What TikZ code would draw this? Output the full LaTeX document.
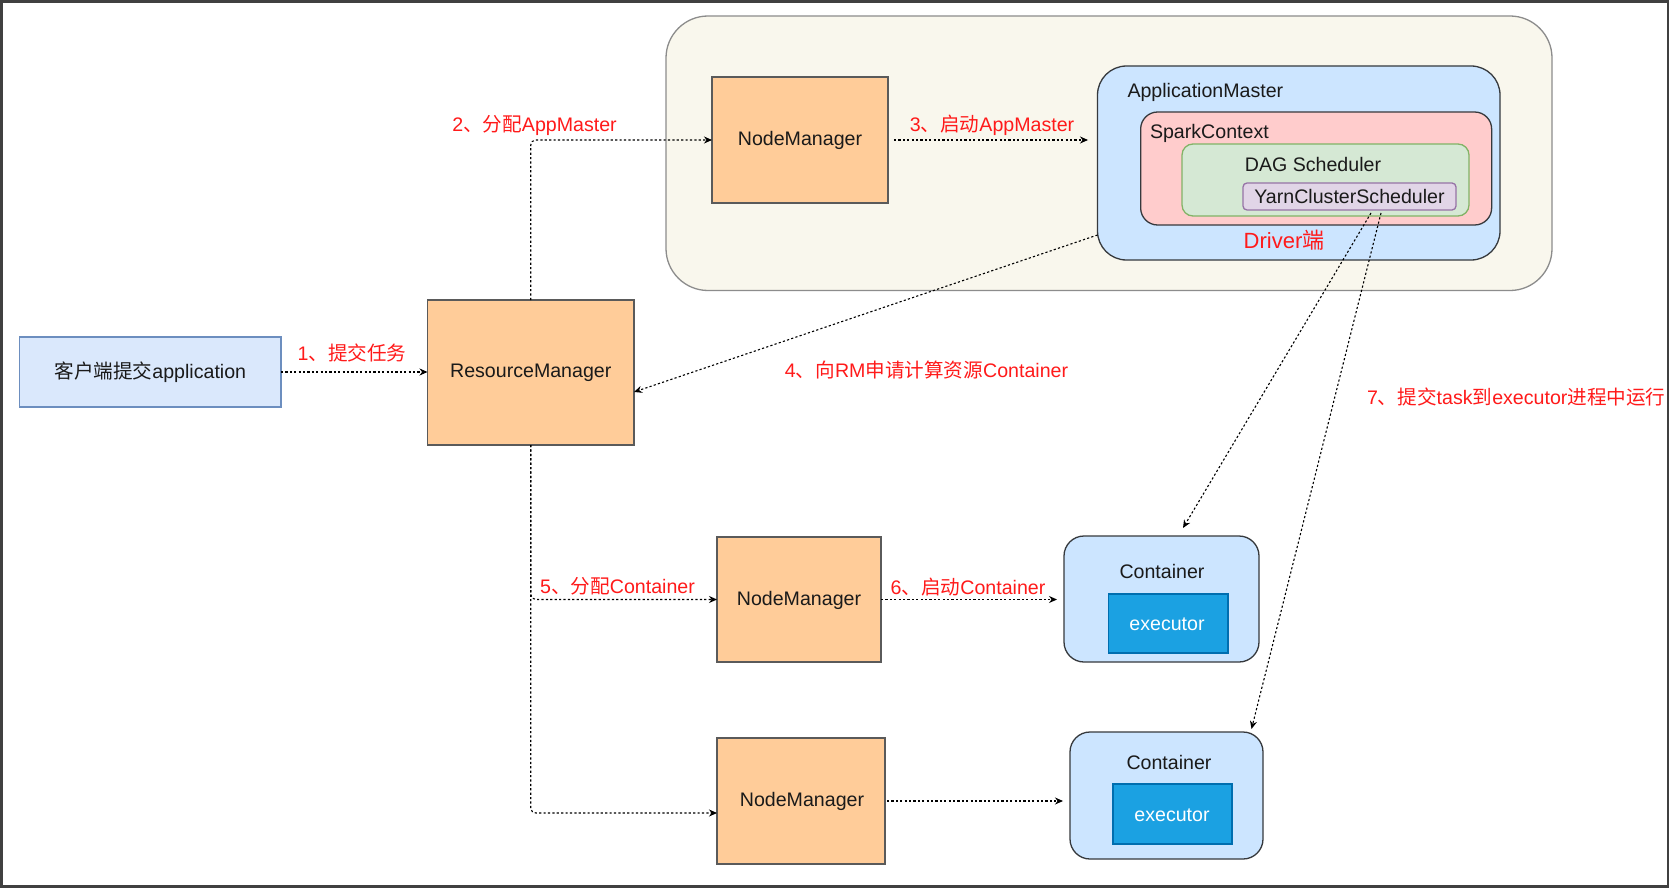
\documentclass[tikz,border=0pt]{standalone}
\usepackage{fontspec}
\setmainfont{Liberation Sans}
\newfontfamily\cjk{Noto Sans CJK SC}
\usetikzlibrary{arrows.meta,calc}
\definecolor{framec}{HTML}{404040}
\definecolor{beigeF}{HTML}{F9F7ED}
\definecolor{beigeD}{HTML}{8C8C8C}
\definecolor{nmF}{HTML}{FFCC99}
\definecolor{darkD}{HTML}{36393D}
\definecolor{nmD}{HTML}{5A5A5A}
\definecolor{amF}{HTML}{CCE5FF}
\definecolor{scF}{HTML}{FFCCCC}
\definecolor{dagF}{HTML}{D5E8D4}
\definecolor{dagD}{HTML}{82B366}
\definecolor{yarnF}{HTML}{E1D5E7}
\definecolor{yarnD}{HTML}{9673A6}
\definecolor{clF}{HTML}{DAE8FC}
\definecolor{clD}{HTML}{6C8EBF}
\definecolor{exF}{HTML}{1BA1E2}
\definecolor{exD}{HTML}{006EAF}
\definecolor{lblred}{HTML}{FF1A1A}
\definecolor{txt}{HTML}{1A1A1A}
\begin{document}
\begin{tikzpicture}[x=1pt,y=-1pt,
  every node/.style={inner sep=0pt, outer sep=0pt, font=\fontsize{19.6}{23}\selectfont, text=txt},
  boxbase/.style={draw, line width=1.3pt, shape=rectangle},
  nmbox/.style={boxbase, fill=nmF, draw=nmD},
  lbl/.style={text=lblred},
  arr/.style={draw=black, line width=1.1pt, dash pattern=on 2.2pt off 2.2pt, -{Stealth[length=8pt,width=7pt]}},
]
\useasboundingbox (0,0) rectangle (1670,888);
\fill[white] (0,0) rectangle (1670,888);
\draw[line width=2.6pt, framec] (1.3,1.3) rectangle (1668,886.7);

% cluster
\node[boxbase, fill=beigeF, draw=beigeD, rounded corners=42pt, minimum width=886pt, minimum height=274.5pt] (cluster) at (1109,153.25) {};
\node[nmbox, minimum width=176pt, minimum height=126pt] (NM1) at (800,140) {};
\node (tNM1) at (800,140) {NodeManager};
\node[boxbase, fill=amF, draw=darkD, rounded corners=29pt, minimum width=402.5pt, minimum height=194pt] (AM) at (1298.75,163) {};
\node[anchor=west] (tAM) at (1127.5,92) {ApplicationMaster};
\node[boxbase, fill=scF, draw=darkD, rounded corners=17pt, minimum width=351pt, minimum height=113pt] (SC) at (1316.15,168.5) {};
\node[anchor=west] (tSC) at (1150,133) {SparkContext};
\node[boxbase, fill=dagF, draw=dagD, rounded corners=11pt, minimum width=287pt, minimum height=72pt] (DAG) at (1325.5,180) {};
\node (tDAG) at (1313,164) {DAG Scheduler};
\node[boxbase, fill=yarnF, draw=yarnD, rounded corners=4pt, minimum width=213pt, minimum height=27pt] (Yarn) at (1349.5,196.5) {};
\node (tYarn) at (1349.5,196.5) {YarnClusterScheduler};
\node[lbl, font=\fontsize{22}{26}\selectfont] (tDriver) at (1284,240) {Driver{\cjk 端}};

% client and RM
\node[boxbase, fill=clF, draw=clD, minimum width=261.4pt, minimum height=70pt] (client) at (150.3,372) {};
\node (tclient) at (150.3,372) {{\cjk 客户端提交}application};
\node[nmbox, minimum width=206.5pt, minimum height=145pt] (RM) at (530.75,372.5) {};
\node (tRM) at (530.75,372.5) {ResourceManager};

% lower node managers
\node[nmbox, minimum width=164pt, minimum height=125pt] (NM2) at (799,599.5) {};
\node (tNM2) at (799,600) {NodeManager};
\node[nmbox, minimum width=168pt, minimum height=126pt] (NM3) at (801,801) {};
\node (tNM3) at (802,801.5) {NodeManager};

% containers
\node[boxbase, fill=amF, draw=darkD, rounded corners=20pt, minimum width=195pt, minimum height=126pt] (C1) at (1161.5,599) {};
\node (tC1) at (1162,571) {Container};
\node[boxbase, fill=exF, draw=exD, minimum width=119.3pt, minimum height=59pt] (E1) at (1168.35,623.5) {};
\node[text=white] (tE1) at (1167,624.6) {executor};
\node[boxbase, fill=amF, draw=darkD, rounded corners=20pt, minimum width=193pt, minimum height=127pt] (C2) at (1166.5,795.5) {};
\node (tC2) at (1169,762) {Container};
\node[boxbase, fill=exF, draw=exD, minimum width=119pt, minimum height=60pt] (E2) at (1172.5,814) {};
\node[text=white] (tE2) at (1172,815) {executor};

% connectors
\draw[arr] (client.east) -- (client.east -| RM.west);
\draw[arr, rounded corners=5pt] (RM.north) |- (NM1.west);
\draw[arr, shorten <=6pt, shorten >=9.5pt] (NM1.east) -- (NM1.east -| AM.west);
\draw[arr] ([yshift=-72pt]AM.west) -- ([yshift=-19.5pt]RM.east);
\draw[arr, rounded corners=5pt] (RM.south) |- (NM2.west);
\draw[arr, rounded corners=5pt] (RM.south) |- ([yshift=-12pt]NM3.west);
\draw[arr, shorten >=7pt] (NM2.east) -- (NM2.east -| C1.west);
\draw[arr, shorten <=2pt, shorten >=7pt] (NM3.east) -- (NM3.east -| C2.west);
\draw[arr] ([xshift=21.5pt,yshift=-3pt]Yarn.south) -- ([xshift=21.5pt,yshift=8pt]C1.north);
\draw[arr] ([xshift=31.5pt,yshift=-3pt]Yarn.south) -- ([xshift=85pt,yshift=3pt]C2.north);

% labels
\node[lbl] (l1) at (352,353) {1{\cjk 、提交任务}};
\node[lbl] (l2) at (534.5,125) {2{\cjk 、分配}AppMaster};
\node[lbl] (l3) at (992,125) {3{\cjk 、启动}AppMaster};
\node[lbl] (l4) at (926.5,370) {4{\cjk 、向}RM{\cjk 申请计算资源}Container};
\node[lbl] (l5) at (617.5,586.7) {5{\cjk 、分配}Container};
\node[lbl] (l6) at (968,586.7) {6{\cjk 、启动}Container};
\node[lbl, anchor=west] (l7) at (1367,396.5) {7{\cjk 、提交}task{\cjk 到}executor{\cjk 进程中运行}};
\end{tikzpicture}
\end{document}
